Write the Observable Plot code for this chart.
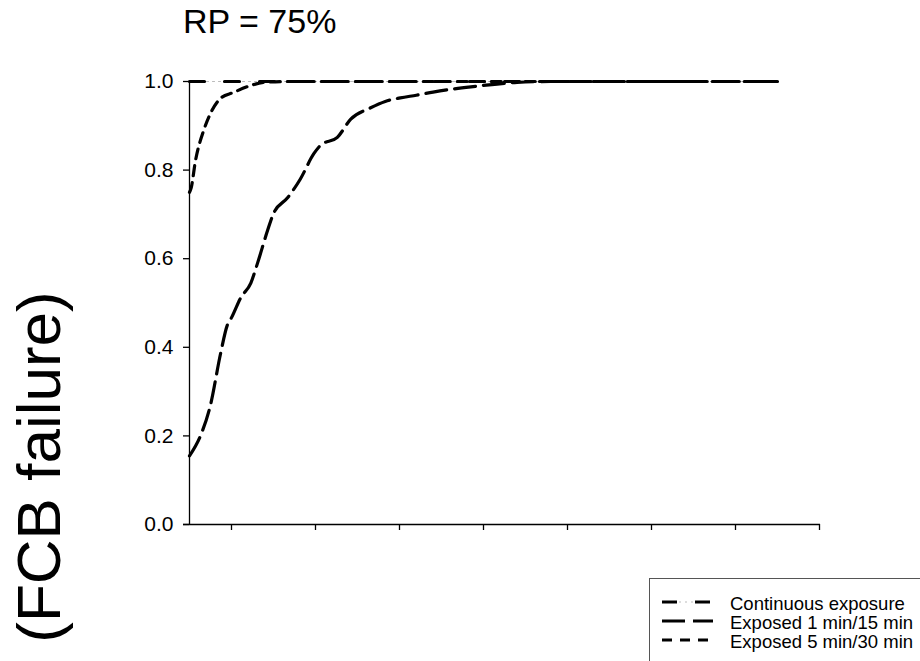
<!DOCTYPE html>
<html>
<head>
<meta charset="utf-8">
<script src="https://cdn.jsdelivr.net/npm/d3@7"></script>
<script src="https://cdn.jsdelivr.net/npm/@observablehq/plot@0.6"></script>
<style>
  html, body { margin: 0; padding: 0; background: #fff; }
  #wrap { position: relative; width: 920px; height: 661px; overflow: hidden; background: #fff; }
  #wrap > svg { position: absolute; left: 0; top: 0; }
  text { font-family: "Liberation Sans", Arial, Helvetica, sans-serif; }
</style>
</head>
<body>
<div id="wrap"></div>
<script>
// ---- data ----
const titleText = "RP = 75%";
const yLabelText = "(FCB failure)";
const seriesNames = ["Continuous exposure", "Exposed 1 min/15 min", "Exposed 5 min/30 min"];

const contX = [0, 1, 2, 3, 4, 5, 6, 7];
const contY = [1, 1, 1, 1, 1, 1, 1, 1];

const exp1X = [0, 0.13, 0.25, 0.37, 0.45, 0.5, 0.61, 0.73, 0.81, 0.93, 1.0, 1.17, 1.32, 1.48, 1.56, 1.76, 1.92, 2.15, 2.33, 2.51, 2.7, 2.9, 3.1, 3.35, 3.6, 3.9, 4.3, 5, 6, 7];
const exp1Y = [0.155, 0.2, 0.27, 0.386, 0.45, 0.467, 0.512, 0.545, 0.59, 0.664, 0.702, 0.738, 0.78, 0.837, 0.856, 0.874, 0.915, 0.94, 0.955, 0.963, 0.969, 0.976, 0.982, 0.988, 0.993, 0.998, 1.0, 1.0, 1.0, 1.0];

const exp5X = [0, 0.02, 0.07, 0.17, 0.25, 0.37, 0.52, 0.73, 0.88, 1.2, 2, 3, 4, 5, 6, 7];
const exp5Y = [0.75, 0.76, 0.82, 0.89, 0.928, 0.962, 0.975, 0.991, 0.998, 1.0, 1, 1, 1, 1, 1, 1];

const yTicks = [0, 0.2, 0.4, 0.6, 0.8, 1.0];
const xTicks = [0.5, 1.5, 2.5, 3.5, 4.5, 5.5, 6.5, 7.5];
const xDomain = [0, 7.5];
const yDomain = [0, 1];

// ---- build tables ----
const cont = contX.map((x, i) => ({x, y: contY[i]}));
const exp1 = exp1X.map((x, i) => ({x, y: exp1Y[i]}));
const exp5 = exp5X.map((x, i) => ({x, y: exp5Y[i]}));

const FONT = '"Liberation Sans", Arial, Helvetica, sans-serif';

const chart = Plot.plot({
  width: 920,
  height: 661,
  marginLeft: 189,
  marginRight: 101,
  marginTop: 81,
  marginBottom: 137,
  style: {fontFamily: FONT, color: "black", background: "white", overflow: "visible"},
  x: {domain: xDomain},
  y: {domain: yDomain},
  marks: [
    Plot.axisY({ticks: yTicks, tickFormat: d3.format(".1f"), tickSize: 6, tickPadding: 10, fontSize: 21, label: null, strokeWidth: 1.3}),
    Plot.axisX({ticks: xTicks, tickFormat: () => "", tickSize: 6, label: null, strokeWidth: 1.3}),
    Plot.ruleX([0], {stroke: "black", strokeWidth: 1.3}),
    Plot.ruleY([0], {stroke: "black", strokeWidth: 1.3, insetLeft: -6, insetRight: -1}),
    Plot.line(cont, {x: "x", y: "y", stroke: "#bbb", strokeWidth: 1.2, strokeDasharray: "2,4", strokeDashoffset: -17}),
    Plot.line(cont, {x: "x", y: "y", stroke: "black", strokeWidth: 3.2, strokeDasharray: "15,20"}),
    Plot.line(exp1, {x: "x", y: "y", stroke: "black", strokeWidth: 3.2, strokeDasharray: "21,8", curve: "monotone-x"}),
    Plot.line(exp5, {x: "x", y: "y", stroke: "black", strokeWidth: 3.2, strokeDasharray: "10,7", curve: "monotone-x"})
  ]
});

const wrap = document.getElementById("wrap");
wrap.appendChild(chart);

// ---- overlay: title, y label, legend ----
const ns = "http://www.w3.org/2000/svg";
const ov = d3.select(wrap).append("svg")
  .attr("xmlns", ns)
  .attr("width", 920).attr("height", 661)
  .style("position", "absolute").style("left", "0px").style("top", "0px")
  .style("font-family", FONT);

ov.append("text").attr("x", 183).attr("y", 33).attr("font-size", 34).attr("fill", "black").text(titleText);

ov.append("text")
  .attr("transform", "translate(60,467) rotate(-90)")
  .attr("text-anchor", "middle").attr("font-size", 62).attr("fill", "black")
  .text(yLabelText);

// legend box
ov.append("rect").attr("x", 649.5).attr("y", 578.5).attr("width", 320).attr("height", 120)
  .attr("fill", "white").attr("stroke", "#555").attr("stroke-width", 1);

const rowsY = [602, 621, 640];
const dashes = ["15,18", "23,8", "10,8"];
seriesNames.forEach((name, i) => {
  const y = rowsY[i];
  if (i === 0) {
    ov.append("line").attr("x1", 679).attr("x2", 695).attr("y1", y).attr("y2", y)
      .attr("stroke", "#bbb").attr("stroke-width", 1.2).attr("stroke-dasharray", "2,4");
  }
  ov.append("line").attr("x1", 662).attr("x2", 713).attr("y1", y).attr("y2", y)
    .attr("stroke", "black").attr("stroke-width", 3.2).attr("stroke-dasharray", dashes[i]);
  ov.append("text").attr("x", 730).attr("y", y + 7.5).attr("font-size", 18.5).attr("fill", "black").text(name);
});
</script>
</body>
</html>
